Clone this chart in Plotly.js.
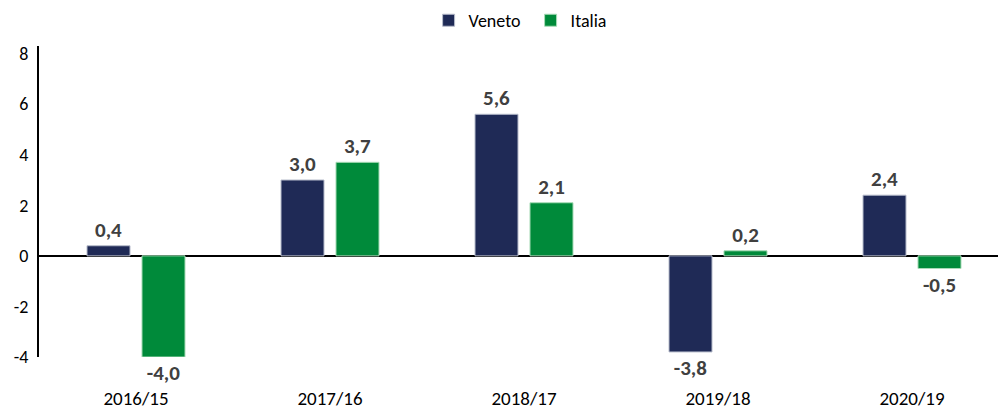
<!DOCTYPE html>
<html><head><meta charset="utf-8">
<script src="https://cdn.plot.ly/plotly-3.0.1.min.js"></script>
<style>html,body{margin:0;padding:0;overflow:hidden;background:#fff}#chart{width:1012px;height:409px}</style>
</head><body><div id="chart"></div>
<script>
const categories = ["2016/15","2017/16","2018/17","2019/18","2020/19"];
const veneto = [0.4, 3.0, 5.6, -3.8, 2.4];
const italia = [-4.0, 3.7, 2.1, 0.2, -0.5];
const yTicks = [-4,-2,0,2,4,6,8];

const FONT = "Carlito, Lato, 'Open Sans', sans-serif";
const labelFont = {family: FONT, size: 21, color: "#404040", weight: "bold"};
const traces = [
  {type:"bar", name:"Veneto", x:categories, y:veneto, marker:{color:"#1f2a56", line:{color:"#b7bccb", width:1}},
   texttemplate:"<b>%{y:.1f}</b>", textposition:"outside", textfont:labelFont, cliponaxis:false},
  {type:"bar", name:"Italia", x:categories, y:italia, marker:{color:"#008a3a", line:{color:"#a8dbb7", width:1}},
   texttemplate:"<b>%{y:.1f}</b>", textposition:"outside", textfont:labelFont, cliponaxis:false}
];
const layout = {
  width:1012, height:409,
  margin:{l:39, r:3, t:46, b:52},
  separators:",.",
  font:{family:FONT, size:17, color:"#000"},
  paper_bgcolor:"#fff", plot_bgcolor:"#fff",
  barmode:"group", bargap:0.433, bargroupgap:0.218,
  showlegend:true,
  legend:{orientation:"h", x:0.5068, xanchor:"center", y:0.995, yanchor:"top", yref:"container", font:{size:18, family:FONT}, traceorder:"normal", entrywidth:57},
  xaxis:{range:[-0.5, 4.5], showline:false, showgrid:false, ticks:"", zeroline:false, ticklabelstandoff:28, tickfont:{size:19, family:FONT}},
  yaxis:{range:[-4,8.3], tickvals:yTicks, ticktext:yTicks.map(String), showgrid:false, showline:true, linecolor:"#000", linewidth:2,
         zeroline:true, zerolinecolor:"#000", zerolinewidth:2, ticks:"", ticklabelstandoff:5, tickfont:{size:18, family:FONT}}
};
Plotly.newPlot("chart", traces, layout, {displayModeBar:false, staticPlot:true});
</script></body></html>
